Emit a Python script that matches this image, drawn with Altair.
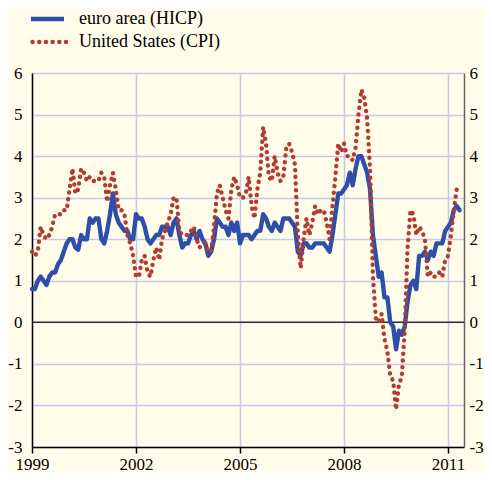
import altair as alt
import pandas as pd

series_names = ["euro area (HICP)", "United States (CPI)"]
start_year = 1999

# Monthly annual rates of change, Jan 1999 - May 2011
euro_hicp = [
    0.8, 0.8, 1.0, 1.1, 1.0, 0.9, 1.1, 1.2, 1.2, 1.4, 1.5, 1.7,
    1.9, 2.0, 2.0, 1.8, 1.75, 2.1, 2.0, 2.0, 2.5, 2.4, 2.5, 2.5,
    2.0, 1.9, 2.2, 2.6, 3.1, 2.6, 2.4, 2.3, 2.2, 2.2, 2.0, 2.0,
    2.6, 2.5, 2.5, 2.3, 2.0, 1.9, 2.0, 2.1, 2.1, 2.3, 2.3, 2.3,
    2.1, 2.4, 2.5, 2.1, 1.8, 1.9, 1.9, 2.1, 2.2, 2.0, 2.2, 2.0,
    1.9, 1.6, 1.7, 2.0, 2.5, 2.4, 2.3, 2.3, 2.1, 2.4, 2.2, 2.4,
    1.9, 2.1, 2.1, 2.1, 2.0, 2.1, 2.2, 2.2, 2.6, 2.5, 2.3, 2.2,
    2.4, 2.3, 2.2, 2.5, 2.5, 2.5, 2.4, 2.3, 1.7, 1.6, 1.9, 1.9,
    1.8, 1.8, 1.9, 1.9, 1.9, 1.9, 1.8, 1.7, 2.1, 2.6, 3.1, 3.1,
    3.2, 3.3, 3.6, 3.3, 3.7, 4.0, 4.0, 3.8, 3.6, 3.2, 2.1, 1.6,
    1.1, 1.2, 0.6, 0.6, 0.0, -0.1, -0.65, -0.2, -0.3, -0.1, 0.5, 0.9,
    1.0, 0.8, 1.6, 1.6, 1.7, 1.5, 1.7, 1.6, 1.9, 1.9, 1.9, 2.2,
    2.3, 2.4, 2.7, 2.8, 2.7,
]

# Jan 1999 - Apr 2011
us_cpi = [
    1.7, 1.6, 1.7, 2.3, 2.1, 2.0, 2.1, 2.3, 2.6, 2.6, 2.6, 2.7,
    2.7, 3.2, 3.7, 3.1, 3.2, 3.7, 3.6, 3.4, 3.5, 3.4, 3.4, 3.4,
    3.6, 3.5, 2.9, 3.3, 3.6, 3.2, 2.7, 2.7, 2.6, 2.1, 1.9, 1.6,
    1.1, 1.1, 1.5, 1.6, 1.2, 1.1, 1.5, 1.8, 1.5, 2.0, 2.2, 2.4,
    2.6, 3.0, 3.0, 2.2, 2.1, 2.1, 2.1, 2.2, 2.3, 2.0, 1.8, 1.9,
    1.9, 1.7, 1.7, 2.3, 3.1, 3.3, 3.0, 2.7, 2.5, 3.2, 3.5, 3.3,
    3.0, 3.0, 3.1, 3.5, 2.8, 2.5, 3.2, 3.6, 4.7, 4.3, 3.5, 3.4,
    4.0, 3.6, 3.4, 3.5, 4.2, 4.3, 4.1, 3.8, 2.1, 1.3, 2.0, 2.5,
    2.1, 2.4, 2.8, 2.6, 2.7, 2.7, 2.4, 2.0, 2.8, 3.5, 4.3, 4.1,
    4.3, 4.0, 4.0, 3.9, 4.2, 5.0, 5.6, 5.4, 4.9, 3.7, 1.1, 0.1,
    0.0, 0.2, -0.4, -0.7, -1.3, -1.4, -2.1, -1.5, -1.3, -0.2, 1.8, 2.7,
    2.6, 2.1, 2.3, 2.2, 2.0, 1.1, 1.2, 1.1, 1.1, 1.2, 1.1, 1.5,
    1.6, 2.1, 2.7, 3.2,
]

y_ticks = [-3, -2, -1, 0, 1, 2, 3, 4, 5, 6]
x_ticks = [1999, 2002, 2005, 2008, 2011]
zero_level = [0]

rows = []
for name, vals in zip(series_names, [euro_hicp, us_cpi]):
    for i, v in enumerate(vals):
        rows.append({"t": start_year + i / 12.0, "v": v, "series": name})
df = pd.DataFrame(rows)

FONT = "Liberation Serif"
BG = "#FFFDE9"
GRID = "#C6C8EA"
BLUE = "#2D4FAA"
RED = "#B33B32"
DOTS = [0.1, 6.6]
PLAIN = "'' + datum.value"

x_scale = alt.Scale(domain=[1999, 2011.46], nice=False, zero=False)
y_scale = alt.Scale(domain=[-3, 6], nice=False, zero=False)

lines = alt.Chart(df).mark_line(
    strokeWidth=4.4, strokeCap="round", strokeJoin="round"
).encode(
    x=alt.X("t:Q", scale=x_scale, axis=alt.Axis(
        values=x_ticks, labelExpr=PLAIN, title=None, grid=True,
        gridColor=GRID, gridWidth=1.5, domainColor="black", domainWidth=1.5,
        tickColor="black", tickSize=6, tickWidth=1.5, labelPadding=3,
        labelFont=FONT, labelFontSize=17, labelColor="black",
        labelFlush=False, labelOverlap=False)),
    y=alt.Y("v:Q", scale=y_scale, axis=alt.Axis(
        orient="left", values=y_ticks, labelExpr=PLAIN, title=None,
        grid=True, gridColor=GRID, gridWidth=1.5, ticks=False,
        domainColor="black", domainWidth=1.5, labelPadding=10,
        labelFont=FONT, labelFontSize=17, labelColor="black")),
    color=alt.Color("series:N", scale=alt.Scale(domain=series_names,
                                                range=[BLUE, RED]),
                    legend=None),
    strokeDash=alt.StrokeDash("series:N", scale=alt.Scale(
        domain=series_names, range=[[1, 0], DOTS]), legend=None),
)

zero = alt.Chart(pd.DataFrame({"v": zero_level})).mark_rule(
    color="#333333", strokeWidth=1.5
).encode(
    y=alt.Y("v:Q", scale=y_scale, axis=alt.Axis(
        orient="right", values=y_ticks, labelExpr=PLAIN, title=None,
        grid=False, ticks=False, domainColor="#666666", domainWidth=1.5,
        labelPadding=5, labelFont=FONT, labelFontSize=17,
        labelColor="black")),
)

# legend (drawn as a key above the plot)
leg_blue_line = alt.Chart(pd.DataFrame({"s": [series_names[0]]})).mark_rule(
    color=BLUE, strokeWidth=4.4
).encode(x=alt.value(-1), x2=alt.value(32), y=alt.value(-54))
leg_red_line = alt.Chart(pd.DataFrame({"s": [series_names[1]]})).mark_rule(
    color=RED, strokeWidth=4.4, strokeDash=DOTS, strokeCap="round"
).encode(x=alt.value(0.5), x2=alt.value(34), y=alt.value(-31))
leg_blue_text = alt.Chart(pd.DataFrame({"s": [series_names[0]]})).mark_text(
    align="left", baseline="middle", font=FONT, fontSize=18, color="black"
).encode(x=alt.value(47), y=alt.value(-54), text="s:N")
leg_red_text = alt.Chart(pd.DataFrame({"s": [series_names[1]]})).mark_text(
    align="left", baseline="middle", font=FONT, fontSize=18, color="black"
).encode(x=alt.value(47), y=alt.value(-31), text="s:N")

chart = alt.layer(
    zero, lines, leg_blue_line, leg_red_line, leg_blue_text, leg_red_text
).resolve_axis(y="independent").properties(
    width=432, height=374, background=BG,
    padding={"left": 24, "top": 65, "right": 20, "bottom": 25},
    autosize=alt.AutoSizeParams(type="none"),
).configure_view(strokeWidth=0)

chart.save("out.html", embed_options={"renderer": "svg", "actions": False})
